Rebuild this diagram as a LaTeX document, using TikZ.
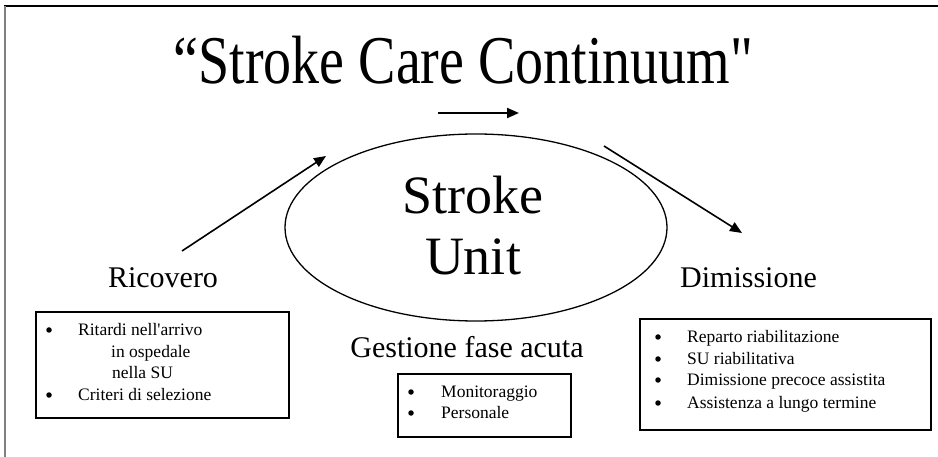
\documentclass[tikz,border=0pt]{standalone}
\usepackage{fontspec}
\setmainfont{Liberation Serif}[Ligatures=TeXOff]
\usetikzlibrary{arrows.meta,shapes.geometric}
\begin{document}
\begin{tikzpicture}[x=1pt,y=-1pt,
  arr/.style={line width=1.6pt,-{Triangle[length=12pt,width=10pt]}},
  listbox/.style={draw,line width=1.4pt},
  bul/.style={circle,fill,inner sep=0pt,minimum size=5.5pt},
  big/.style={font=\fontsize{54}{60}\selectfont,anchor=base},
  mid/.style={font=\fontsize{30}{34}\selectfont,anchor=base},
  small/.style={font=\fontsize{17.5}{20}\selectfont,anchor=base west,inner sep=0pt}]
\useasboundingbox (0,0) rectangle (938,457);
% frame
\draw[line width=1.5pt] (4,6) -- (938,6);
\draw[line width=2pt,gray] (4.5,6) -- (4.5,457);
% title
\node[font=\fontsize{56}{60}\selectfont,anchor=base,yscale=1.22] (title) at (463.5,84) {“Stroke Care Continuum"};
% top arrow
\coordinate (ta1) at (438,113);
\coordinate (ta2) at (519,113);
\draw[arr,line width=2pt] (ta1) -- (ta2);
% ellipse
\node[draw,ellipse,line width=1.3pt,minimum width=382pt,minimum height=187pt,inner sep=0pt] (su) at (476,227.5) {};
\node[big] (stroke) at (473,214) {Stroke};
\node[big] (unit) at (473,275) {Unit};
% arrows
\coordinate (la1) at (182,251);
\coordinate (la2) at (326,156);
\draw[arr] (la1) -- (la2);
\coordinate (ra1) at (604,146);
\coordinate (ra2) at (742,233);
\draw[arr] (ra1) -- (ra2);
% labels
\node[mid] (ric) at (163,288) {Ricovero};
\node[mid] (dim) at (748.5,288) {Dimissione};
\node[mid] (gest) at (467,357) {Gestione fase acuta};
% left box
\draw[listbox] (36,312) rectangle (289,418);
\node[bul] (lb1) at (49,330) {};
\node[small] (l1) at (78,335) {Ritardi nell'arrivo};
\node[small] (l2) at (111,357) {in ospedale};
\node[small] (l3) at (112,378) {nella SU};
\node[bul] (lb2) at (49,395) {};
\node[small] (l4) at (78,400) {Criteri di selezione};
% middle box
\draw[listbox] (398,374) rectangle (571,437);
\node[bul] (mb1) at (411,392) {};
\node[small] (m1) at (441,397) {Monitoraggio};
\node[bul] (mb2) at (411,413) {};
\node[small] (m2) at (441,418) {Personale};
% right box
\draw[listbox] (640,319) rectangle (931,430);
\node[bul] (rb1) at (658,337) {};
\node[small] (r1) at (687,342) {Reparto riabilitazione};
\node[bul] (rb2) at (658,359) {};
\node[small] (r2) at (687,364) {SU riabilitativa};
\node[bul] (rb3) at (658,380) {};
\node[small] (r3) at (687,385) {Dimissione precoce assistita};
\node[bul] (rb4) at (658,403) {};
\node[small] (r4) at (687,408) {Assistenza a lungo termine};
\end{tikzpicture}
\end{document}
